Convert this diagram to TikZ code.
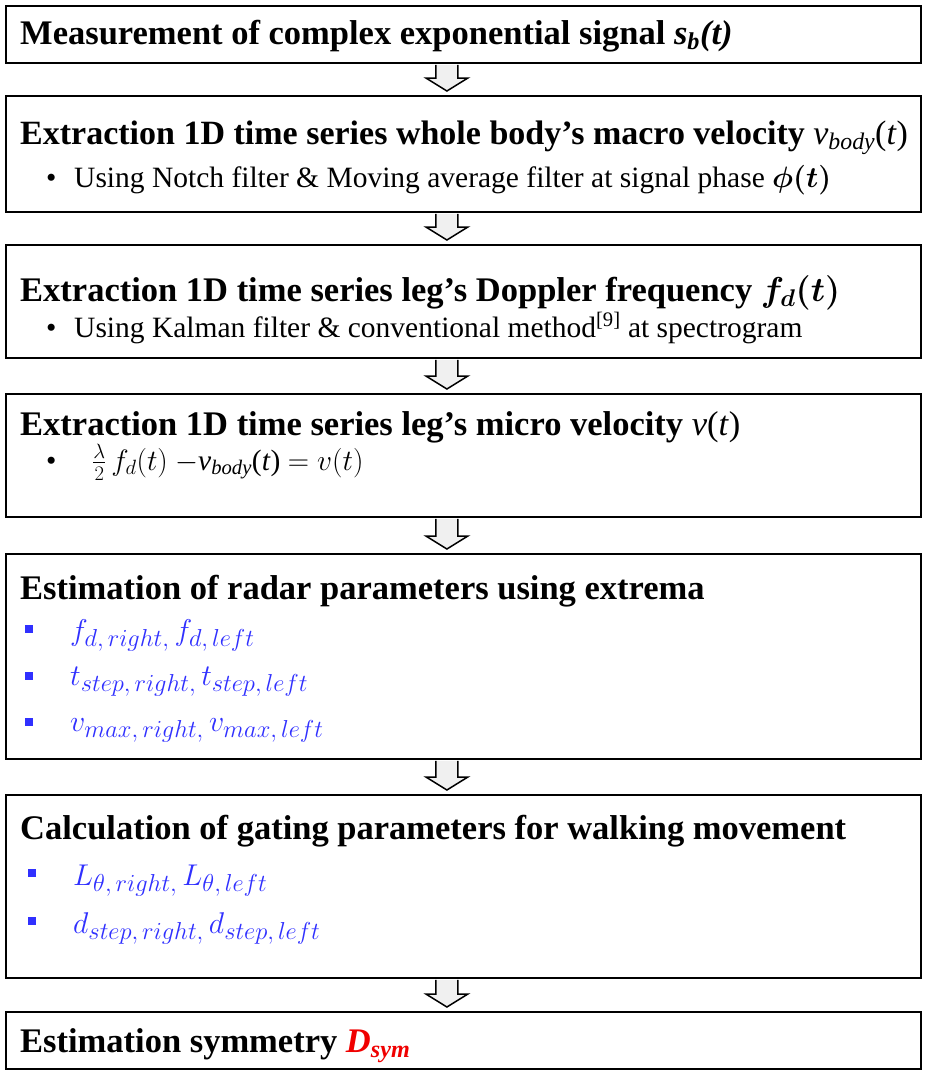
\RequirePackage{fix-cm}
\documentclass[tikz,border=0pt]{standalone}
\usepackage{fontspec}
\setmainfont{Liberation Serif}
\usepackage{amsmath}
\usepackage{bm}
\usetikzlibrary{calc}
\DeclareMathSizes{30}{30}{24.5}{20}
\definecolor{itemblue}{RGB}{48,48,255}
\definecolor{symred}{RGB}{240,0,0}
\newcommand{\flowarrow}[2]{%
  \draw[blockarrow] ($(#1.south)+(-27.5,1)$) -- ($(#2.north)+(-27.5,-17)$) -- ($(#2.north)+(-37.5,-17)$) -- ($(#2.north)+(-16.5,-4)$) -- ($(#2.north)+(4.5,-17)$) -- ($(#2.north)+(-5.5,-17)$) -- ($(#1.south)+(-5.5,1)$);}
\begin{document}
\begin{tikzpicture}[x=1pt,y=-1pt,
 box/.style={draw=black,line width=1.8pt,fill=white,minimum width=915pt,anchor=north west,inner sep=0pt},
 ttl/.style={anchor=base west,inner sep=0pt,font=\fontsize{34.5}{38}\selectfont\bfseries},
 btxt/.style={anchor=base west,inner sep=0pt,font=\fontsize{29.5}{32}\selectfont},
 bitem/.style={anchor=base west,inner sep=0pt,text=itemblue,font=\fontsize{30}{34}\selectfont},
 bsq/.style={fill=itemblue,minimum size=8pt,inner sep=0pt},
 blockarrow/.style={draw=black,line width=1.5pt,fill=gray!12,line join=miter}]
\useasboundingbox (0,0) rectangle (928,1074);
% boxes
\node[box,minimum height=57pt] (b1) at (5,5) {};
\node[box,minimum height=116pt] (b2) at (5,95) {};
\node[box,minimum height=113pt] (b3) at (5,244) {};
\node[box,minimum height=123pt] (b4) at (5,393) {};
\node[box,minimum height=205pt] (b5) at (5,553) {};
\node[box,minimum height=183pt] (b6) at (5,794) {};
\node[box,minimum height=57pt] (b7) at (5,1011) {};
% arrows
\flowarrow{b1}{b2}
\flowarrow{b2}{b3}
\flowarrow{b3}{b4}
\flowarrow{b4}{b5}
\flowarrow{b5}{b6}
\flowarrow{b6}{b7}
% box 1
\node[ttl] (t1) at (20,44) {Measurement of complex exponential signal \textit{s\textsubscript{b}(t)}};
% box 2
\node[ttl,font=\fontsize{34}{38}\selectfont\bfseries] (t2) at (20,144) {Extraction 1D time series whole body’s macro velocity {\mdseries\textit{v}\textsubscript{\textit{body}}(\textit{t})}};
\node[btxt] (d2) at (46,187) {•};
\node[btxt] (s2) at (74,187) {Using Notch filter \& Moving average filter at signal phase {\boldmath$\phi(t)$}};
% box 3
\node[ttl] (t3) at (20,301) {Extraction 1D time series leg’s Doppler frequency {\boldmath$f_d(t)$}};
\node[btxt] (d3) at (46,337) {•};
\node[btxt] (s3) at (74,337) {Using Kalman filter \& conventional method\textsuperscript{[9]} at spectrogram};
% box 4
\node[ttl] (t4) at (20,435) {Extraction 1D time series leg’s micro velocity {\mdseries\textit{v}(\textit{t})}};
\node[btxt] (d4) at (46,470) {•};
\node[btxt] (s4) at (92,470) {$\tfrac{\lambda}{2}\,f_d(t)$\ {\mdseries$-$\textit{v}\textsubscript{\textit{body}}(\textit{t})} $=v(t)$};
% box 5
\node[ttl] (t5) at (20,599) {Estimation of radar parameters using extrema};
\node[bsq] (q51) at (29,629) {};
\node[bitem] (i51) at (70,640) {$f_{d,\,right,}\,f_{d,\,left}$};
\node[bsq] (q52) at (29,676) {};
\node[bitem] (i52) at (70,685) {$t_{step,\,right,}\,t_{step,\,left}$};
\node[bsq] (q53) at (29,722) {};
\node[bitem] (i53) at (70,731) {$v_{max,\,right,}\,v_{max,\,left}$};
% box 6
\node[ttl] (t6) at (20,839) {Calculation of gating parameters for walking movement};
\node[bsq] (q61) at (32,873) {};
\node[bitem] (i61) at (73,885) {$L_{\theta,\,right,}\,L_{\theta,\,left}$};
\node[bsq] (q62) at (32,921) {};
\node[bitem] (i62) at (73,933) {$d_{step,\,right,}\,d_{step,\,left}$};
% box 7
\node[ttl] (t7) at (20,1052) {Estimation symmetry \textcolor{symred}{\textit{D}\textsubscript{\textit{sym}}}};
\end{tikzpicture}
\end{document}
